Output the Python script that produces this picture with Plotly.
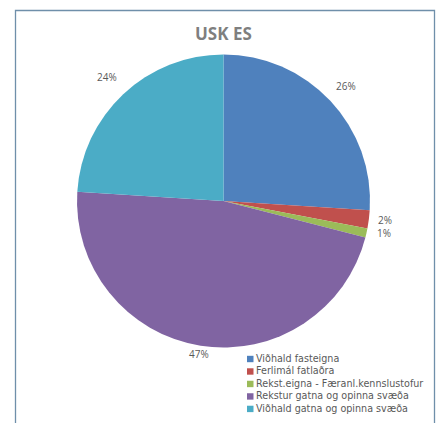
import math
import plotly.graph_objects as go

categories = ["Viðhald fasteigna", "Ferlimál fatlaðra", "Rekst.eigna - Færanl.kennslustofur",
              "Rekstur gatna og opinna svæða", "Viðhald gatna og opinna svæða"]
values = [26, 2, 1, 47, 24]
colors = ["#4F81BD", "#C0504D", "#9BBB59", "#8064A2", "#4BACC6"]
title_text = "USK ES"

W, H = 443, 423
cx, cy, R = 223.5, 201, 146.5

fig = go.Figure(go.Pie(
    labels=categories, values=values, sort=False, direction="clockwise", rotation=0,
    marker=dict(colors=colors, line=dict(width=0)),
    textinfo="none", hoverinfo="label+percent", showlegend=False,
    domain=dict(x=[(cx - R) / W, (cx + R) / W], y=[1 - (cy + R) / H, 1 - (cy - R) / H]),
))

annotations = []
# percentage labels outside slices
total = sum(values)
cum = 0
label_r = [1.15, 1.11, 1.12, 1.06, 1.16]
label_dy = [0, -1, -4, 0, 0]
for i, v in enumerate(values):
    mid = (cum + v / 2) / total * 2 * math.pi
    cum += v
    r = R * label_r[i]
    x = cx + r * math.sin(mid)
    y = cy - r * math.cos(mid) + label_dy[i]
    annotations.append(dict(x=x / W, y=1 - y / H, xref="paper", yref="paper",
                            xanchor="center", yanchor="middle",
                            text=f"{round(v / total * 100)}%", showarrow=False,
                            font=dict(family="Open Sans", size=10, color="#595959")))

# title
annotations.append(dict(x=cx / W, y=1 - 33 / H, xref="paper", yref="paper", text=f"<b>{title_text}</b>",
                        xanchor="center", yanchor="middle",
                        showarrow=False, font=dict(family="Open Sans", size=17, color="#7F7F7F")))

shapes = [dict(type="rect", xref="paper", yref="paper", x0=15.5 / W, x1=434.5 / W,
               y0=-0.05, y1=1 - 10.5 / H, line=dict(color="#6F8FAA", width=1.3), fillcolor="rgba(0,0,0,0)")]

# legend (markers as shapes, labels as one multi-line text block)
legend_font = 9.6
ldy = 1.3 * legend_font
ly0 = 359
n = len(categories)
for i, col in enumerate(colors):
    yy = ly0 + i * ldy
    shapes.append(dict(type="rect", xref="paper", yref="paper", x0=247 / W, x1=253.5 / W,
                       y0=1 - (yy + 3.2) / H, y1=1 - (yy - 3.2) / H, line=dict(width=0), fillcolor=col))
annotations.append(dict(x=255 / W, y=1 - (ly0 + (n - 1) / 2 * ldy) / H, xref="paper", yref="paper",
                        text="<br>".join(categories), align="left",
                        xanchor="left", yanchor="middle", borderpad=0,
                        showarrow=False, font=dict(family="DejaVu Sans", size=legend_font, color="#595959")))

fig.update_layout(width=W, height=H, margin=dict(l=0, r=0, t=0, b=0),
                  paper_bgcolor="white", plot_bgcolor="white",
                  annotations=annotations, shapes=shapes)
fig.write_html("out.html", config={"displayModeBar": False},
               post_script="document.body.style.margin='0';document.body.style.overflow='hidden';")
